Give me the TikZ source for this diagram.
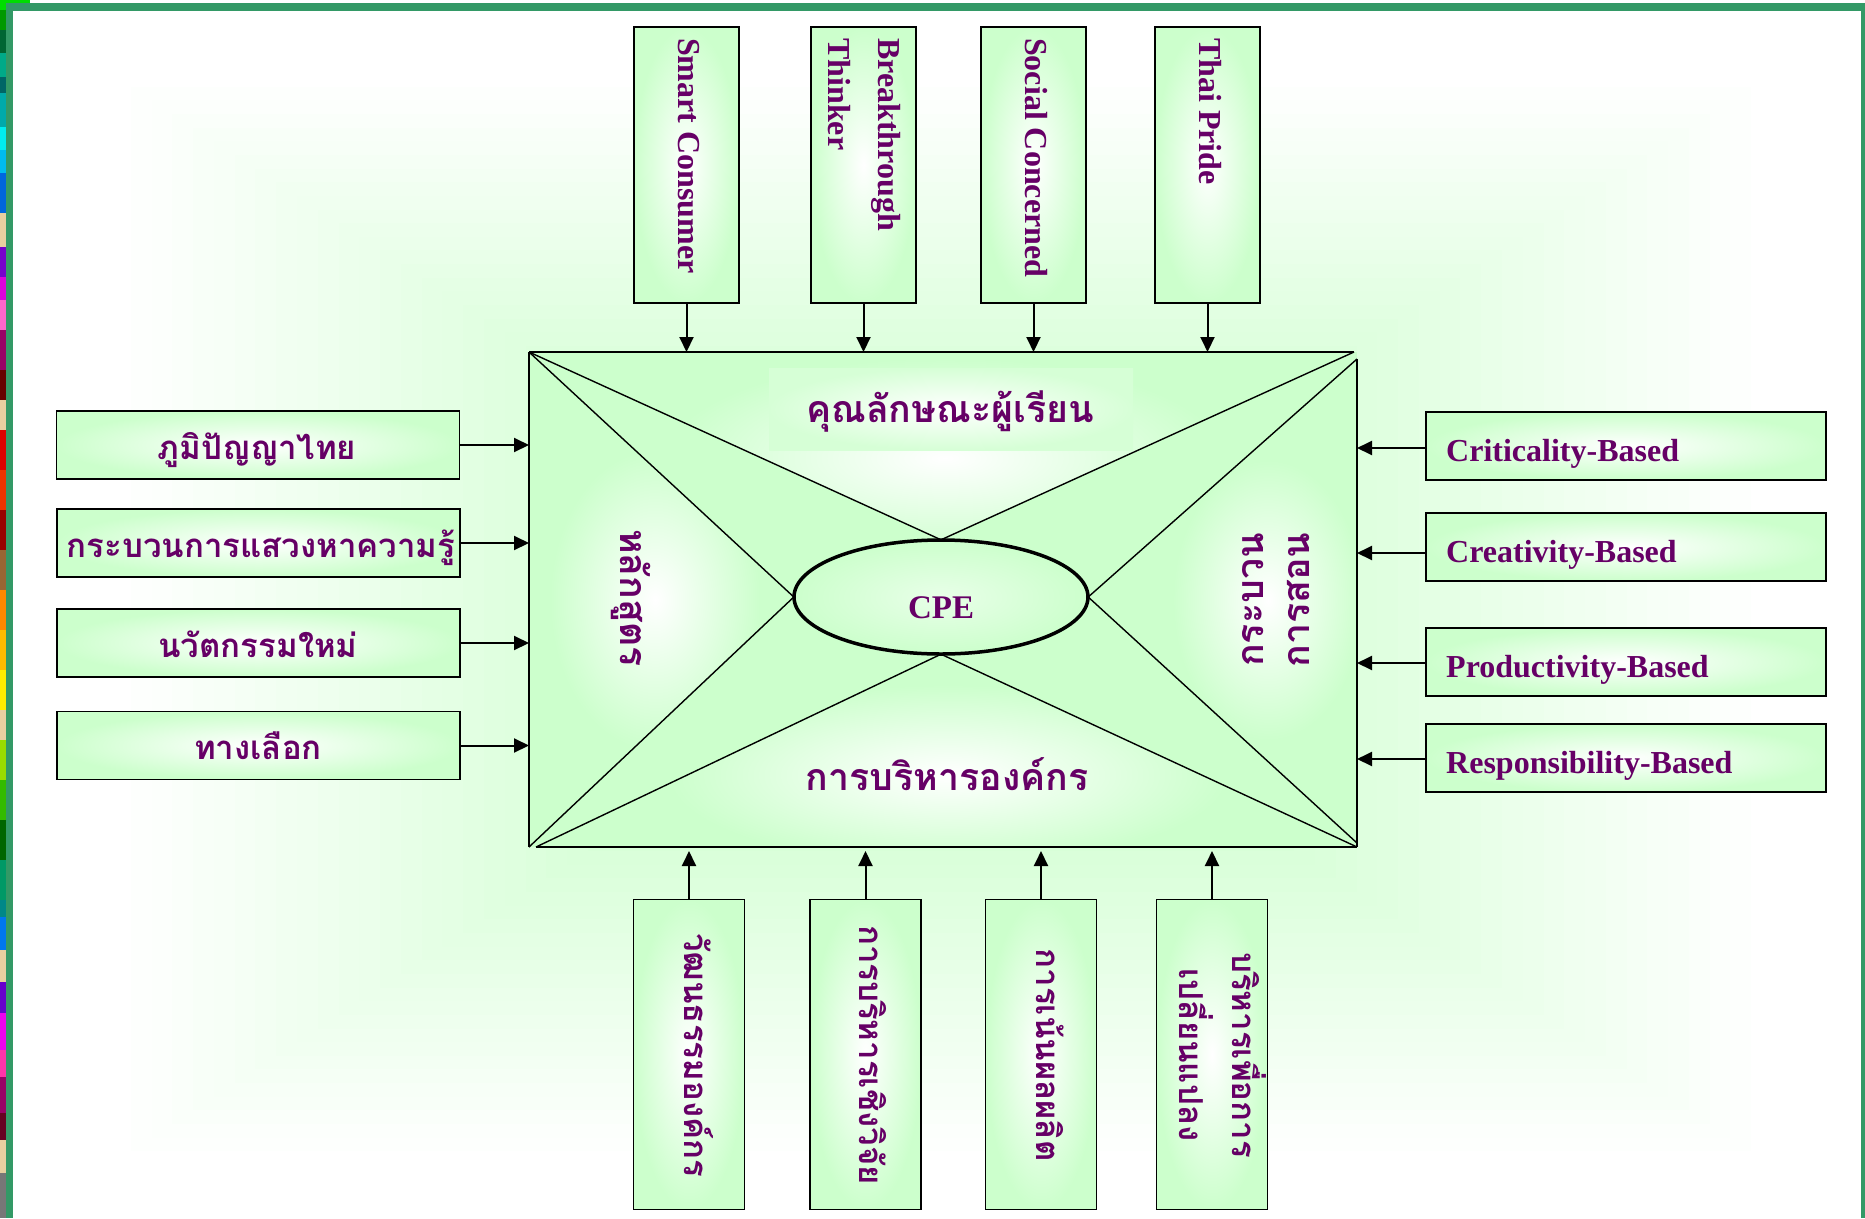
\documentclass[tikz,border=0pt]{standalone}
\usepackage{fontspec}
\setmainfont{Liberation Serif}
\newfontfamily\thaifont[Script=Thai]{Loma}
\usetikzlibrary{arrows.meta,shapes.geometric}
\definecolor{boxgreen}{HTML}{CCFFCC}
\definecolor{txtpurple}{HTML}{660066}
\definecolor{framegreen}{HTML}{339966}
\definecolor{rbA}{HTML}{00DD00}\definecolor{rbB}{HTML}{009900}\definecolor{rbC}{HTML}{006633}
\definecolor{rbD}{HTML}{00AA88}\definecolor{rbE}{HTML}{006666}\definecolor{rbF}{HTML}{00AAAA}
\definecolor{rbG}{HTML}{00EEEE}\definecolor{rbH}{HTML}{00BBEE}\definecolor{rbI}{HTML}{0066DD}
\definecolor{rbJ}{HTML}{E8CFA0}\definecolor{rbK}{HTML}{7700CC}\definecolor{rbL}{HTML}{DD00DD}
\definecolor{rbM}{HTML}{FF66CC}\definecolor{rbN}{HTML}{990066}\definecolor{rbO}{HTML}{660000}
\definecolor{rbP}{HTML}{DD0000}\definecolor{rbQ}{HTML}{EE3300}\definecolor{rbR}{HTML}{990000}
\definecolor{rbS}{HTML}{996633}\definecolor{rbT}{HTML}{FF8800}\definecolor{rbU}{HTML}{FFBB00}
\definecolor{rbV}{HTML}{FFEE00}\definecolor{rbW}{HTML}{99DD00}\definecolor{rbX}{HTML}{33BB00}
\definecolor{rbY}{HTML}{006600}\definecolor{rbZ}{HTML}{009966}\definecolor{rba}{HTML}{008888}
\definecolor{rbb}{HTML}{0077EE}\definecolor{rbc}{HTML}{6600CC}\definecolor{rbd}{HTML}{EE00EE}
\definecolor{rbe}{HTML}{FF33AA}\definecolor{rbf}{HTML}{660022}\definecolor{rbg}{HTML}{777777}
\begin{document}
\begin{tikzpicture}[x=1pt,y=-1pt,
  arr/.style={line width=2pt,-{Triangle[length=15pt,width=14pt]}},
  boxbase/.style={draw=black,line width=1.9pt,inner sep=0pt,inner color=white,outer color=boxgreen},
  topbox/.style={boxbase,minimum width=105pt,minimum height=276pt},
  botbox/.style={boxbase,minimum width=111pt,minimum height=310pt},
  leftbox/.style={boxbase,minimum width=403pt,minimum height=68pt},
  rightbox/.style={boxbase,minimum width=400pt,minimum height=68pt},
  entxt/.style={text=txtpurple,font=\fontsize{32}{50}\selectfont\bfseries,inner sep=0pt},
  thtxt/.style={text=txtpurple,font=\thaifont\fontsize{37.5}{46}\selectfont\bfseries,inner sep=0pt},
  thbox/.style={text=txtpurple,font=\thaifont\fontsize{33}{53}\selectfont\bfseries,inner sep=0pt},
  rimline/.style={line width=1.6pt},
  diag/.style={line width=1.4pt},
]
\useasboundingbox (0,0) rectangle (1865,1218);
% background
\fill[white] (0,0) rectangle (1865,1218);
\foreach \i in {0,...,39}{
  \pgfmathsetmacro\gT{1-\i/40}
  \pgfmathsetmacro\gF{min(100,100*(1-\gT)/0.75)}
  \fill[boxgreen!\gF!white] ({941-831*\gT},{619-546*\gT}) rectangle ({941+831*\gT},{619+546*\gT});
}
% colour strip at the left edge
\foreach \ya/\yb/\cc in {0/10/rbA,10/30/rbB,30/53/rbC,53/77/rbD,77/93/rbE,93/127/rbF,127/150/rbG,
  150/173/rbH,173/213/rbI,213/247/rbJ,247/277/rbK,277/300/rbL,300/330/rbM,330/370/rbN,370/400/rbO,
  400/430/rbJ,430/470/rbP,470/510/rbQ,510/550/rbR,550/590/rbS,590/630/rbT,630/670/rbU,670/710/rbV,
  710/740/rbJ,740/780/rbW,780/820/rbX,820/860/rbY,860/900/rbZ,900/917/rba,917/950/rbb,950/982/rbJ,
  982/1013/rbc,1013/1050/rbd,1050/1077/rbe,1077/1113/rbN,1113/1140/rbf,1140/1173/rbJ,1173/1218/rbg}{
  \fill[\cc] (0,\ya) rectangle (6,\yb);
}
\fill[rbA] (6,0) rectangle (30,3);
% frame
\draw[framegreen,line width=8pt] (6,7) -- (1865,7);
\draw[framegreen,line width=7pt] (9.5,3) -- (9.5,1218);
\draw[framegreen,line width=7pt] (1864,3) -- (1864,1218);

% main block corners
\coordinate (tl) at (529,352);
\coordinate (tr) at (1354,352);
\coordinate (rt) at (1357,359);
\coordinate (br) at (1357,847);
\coordinate (bl) at (529,847);
\coordinate (lb) at (536,847);
\coordinate (rb) at (1357,843);
\fill[boxgreen] (tl) rectangle (br);

\node[ellipse,minimum width=294pt,minimum height=114pt,inner sep=0pt] (cpe) at (941,597) {};

% glows in the four triangles
\begin{scope}
  \clip (tl) -- (tr) -- (cpe.north) -- cycle;
  \shade[inner color=white,outer color=boxgreen] (945,458) ellipse (280 and 100);
\end{scope}
\begin{scope}
  \clip (tl) -- (bl) -- (cpe.west) -- cycle;
  \shade[inner color=white,outer color=boxgreen] (655,600) ellipse (105 and 150);
\end{scope}
\begin{scope}
  \clip (rt) -- (rb) -- (cpe.east) -- cycle;
  \shade[inner color=white,outer color=boxgreen] (1268,600) ellipse (95 and 140);
\end{scope}
\begin{scope}
  \clip (lb) -- (br) -- (cpe.south) -- cycle;
  \shade[inner color=white,outer color=boxgreen] (948,775) ellipse (280 and 90);
\end{scope}
\shade[inner color=white,outer color=boxgreen!80!white] (769,368) rectangle (1133,450);

% outline and diagonals
\draw[rimline] (tl) -- (tr);
\draw[rimline] (rt) -- (br);
\draw[rimline] (lb) -- (br);
\draw[rimline] (tl) -- (bl);
\draw[diag] (tl) -- (cpe.north);
\draw[diag] (tr) -- (cpe.north);
\draw[diag] (tl) -- (cpe.west);
\draw[diag] (bl) -- (cpe.west);
\draw[diag] (lb) -- (cpe.south);
\draw[diag] (br) -- (cpe.south);
\draw[diag] (rt) -- (cpe.east);
\draw[diag] (rb) -- (cpe.east);

\node[ellipse,draw=black,line width=3.5pt,minimum width=294pt,minimum height=114pt,inner sep=0pt,
  inner color=boxgreen!45!white,outer color=boxgreen] (cpering) at (941,597) {};
\node[entxt,anchor=base,font=\fontsize{33}{40}\selectfont\bfseries] (cpelbl) at (941,618) {CPE};

% texts inside the block
\node[thtxt,anchor=base] (ttop) at (950,422) {คุณลักษณะผู้เรียน};
\node[thtxt,anchor=base] (tbot) at (947,790) {การบริหารองค์กร};
\node[thtxt,rotate=-90,anchor=base] (tleft) at (620,598) {หลักสูตร};
\node[thtxt,rotate=90,align=center] (tright) at (1276,600) {กระบวน\\การสอน};

% top boxes
\node[topbox] (tb1) at (686.5,165) {};
\node[topbox] (tb2) at (863.5,165) {};
\node[topbox] (tb3) at (1033.5,165) {};
\node[topbox] (tb4) at (1207.5,165) {};
\node[entxt,rotate=-90,anchor=west] (tt1) at (689,38) {Smart Consumer};
\node[entxt,rotate=-90,anchor=west,align=left] (tt2) at (864,38) {Breakthrough\\Thinker};
\node[entxt,rotate=-90,anchor=west] (tt3) at (1036,38) {Social Concerned};
\node[entxt,rotate=-90,anchor=west] (tt4) at (1210,38) {Thai Pride};
\foreach \b in {tb1,tb2,tb3,tb4}{\draw[arr] (\b.south) -- (\b.south |- tl);}

% bottom boxes
\node[botbox] (bb1) at (689,1054.5) {};
\node[botbox] (bb2) at (865.5,1054.5) {};
\node[botbox] (bb3) at (1041,1054.5) {};
\node[botbox] (bb4) at (1212,1054.5) {};
\node[thbox,rotate=-90] (bt1) at (699,1055) {วัฒนธรรมองค์กร};
\node[thbox,rotate=-90] (bt2) at (873,1055) {การบริหารเชิงวิจัย};
\node[thbox,rotate=-90] (bt3) at (1050,1055) {การเน้นผลผลิต};
\node[thbox,rotate=-90,align=center] (bt4) at (1223,1055) {บริหารเพื่อการ\\เปลี่ยนแปลง};
\foreach \b in {bb1,bb2,bb3,bb4}{\draw[arr] (\b.north) -- ([yshift=-4pt]\b.north |- bl);}

% left boxes
\node[leftbox] (lb1) at (258,445) {};
\node[leftbox] (lb2) at (258.5,543) {};
\node[leftbox] (lb3) at (258.5,643) {};
\node[leftbox] (lb4) at (258.5,745.5) {};
\node[thbox,anchor=base] (lt1) at (257,459) {ภูมิปัญญาไทย};
\node[thbox,anchor=base] (lt2) at (261,557) {กระบวนการแสวงหาความรู้};
\node[thbox,anchor=base] (lt3) at (258,657) {นวัตกรรมใหม่};
\node[thbox,anchor=base] (lt4) at (258,759) {ทางเลือก};
\foreach \b in {lb1,lb2,lb3,lb4}{\draw[arr] (\b.east) -- (\b.east -| tl);}

% right boxes
\node[rightbox] (rb1) at (1626,446) {};
\node[rightbox] (rb2) at (1626,547) {};
\node[rightbox] (rb3) at (1626,662) {};
\node[rightbox] (rb4) at (1626,758) {};
\node[entxt,anchor=base west] (rt1) at (1446,461) {Criticality-Based};
\node[entxt,anchor=base west] (rt2) at (1446,562) {Creativity-Based};
\node[entxt,anchor=base west] (rt3) at (1446,677) {Productivity-Based};
\node[entxt,anchor=base west] (rt4) at (1446,773) {Responsibility-Based};
\draw[arr] ([yshift=-2pt]rb1.west) -- ([yshift=-2pt]rb1.west -| br);
\draw[arr] ([yshift=-6pt]rb2.west) -- ([yshift=-6pt]rb2.west -| br);
\draw[arr] ([yshift=-1pt]rb3.west) -- ([yshift=-1pt]rb3.west -| br);
\draw[arr] ([yshift=-1pt]rb4.west) -- ([yshift=-1pt]rb4.west -| br);
\end{tikzpicture}
\end{document}
